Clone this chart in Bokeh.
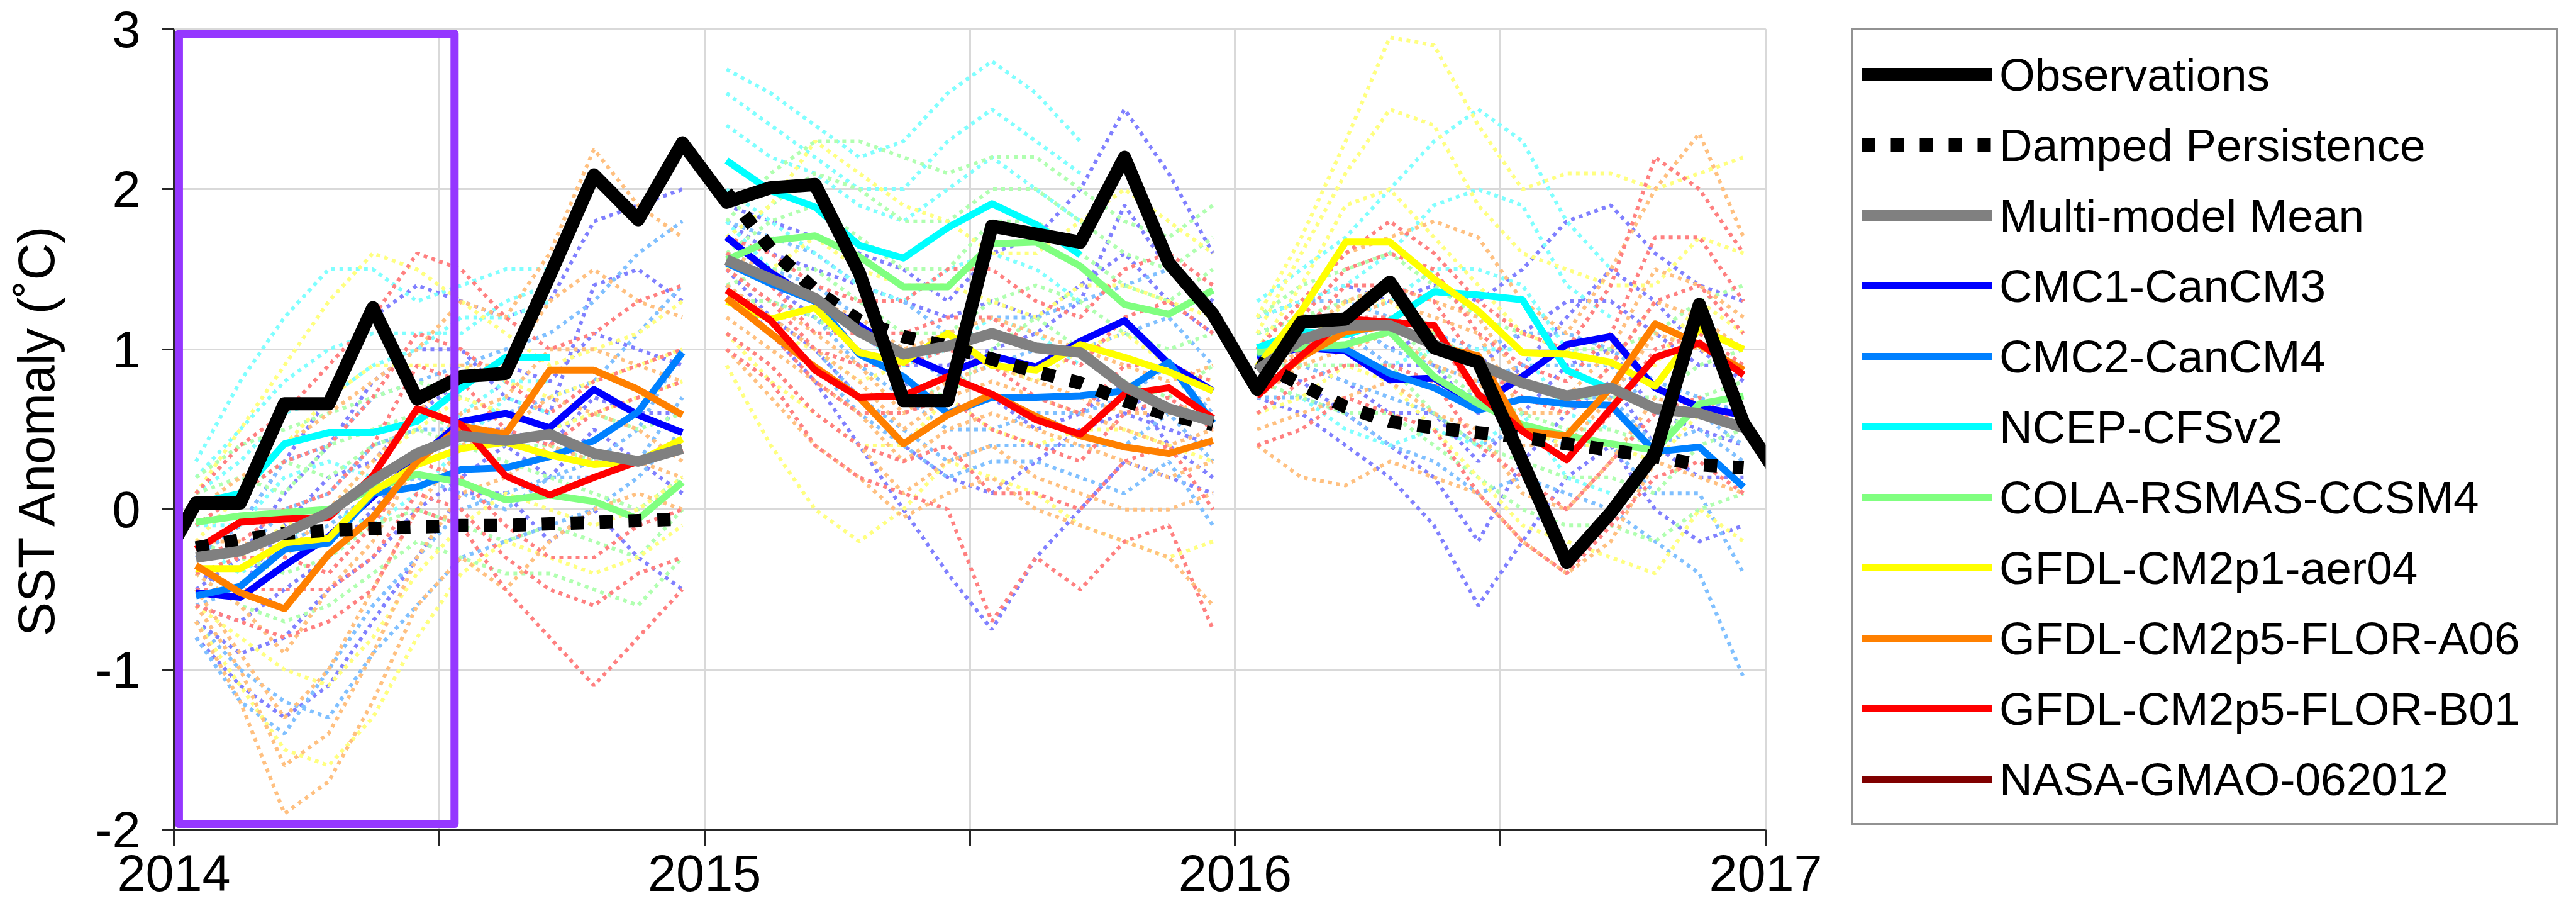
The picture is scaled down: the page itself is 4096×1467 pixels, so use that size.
import math
from bokeh.plotting import figure
from bokeh.models import Range1d, FixedTicker, Legend, LegendItem, BoxAnnotation
from bokeh.embed import file_html
from bokeh.resources import INLINE

# ---------------------------------------------------------------- data
FORECAST_YEARS = [2014, 2015, 2016]
X_TICKS = [2014, 2015, 2016, 2017]
X_MINOR_TICKS = [2014.5, 2015.5, 2016.5]
Y_TICKS = [-2, -1, 0, 1, 2, 3]
Y_TICK_LABELS = ["-2", "-1", "0", "1", "2", "3"]

OBS_FIRST_YEAR, OBS_FIRST_MONTH = 2013, 12
OBSERVATIONS = [-0.45,
    0.04, 0.04, 0.66, 0.66, 1.26, 0.69, 0.83, 0.85, 1.46, 2.09, 1.81, 2.29,
    1.92, 2.01, 2.03, 1.48, 0.68, 0.68, 1.77, 1.72, 1.67, 2.20, 1.54, 1.22,
    0.75, 1.17, 1.19, 1.42, 1.01, 0.92, 0.30, -0.33, -0.02, 0.35, 1.28, 0.54,
    0.12]

DAMPED = {
    2014: [-0.24, -0.19, -0.15, -0.13, -0.12, -0.11, -0.10, -0.10, -0.09, -0.08, -0.07, -0.06],
    2015: [1.98, 1.63, 1.37, 1.18, 1.08, 1.02, 0.94, 0.86, 0.79, 0.68, 0.59, 0.53],
    2016: [0.92, 0.78, 0.64, 0.55, 0.51, 0.48, 0.45, 0.41, 0.37, 0.33, 0.28, 0.26],
}

MULTI_MODEL_MEAN = {
    2014: [-0.30, -0.26, -0.15, -0.02, 0.18, 0.35, 0.46, 0.43, 0.47, 0.35, 0.30, 0.38],
    2015: [1.56, 1.44, 1.32, 1.11, 0.97, 1.02, 1.10, 1.01, 0.98, 0.77, 0.63, 0.55],
    2016: [0.87, 1.06, 1.15, 1.15, 1.03, 0.91, 0.79, 0.71, 0.76, 0.63, 0.60, 0.51],
}

CMC1_MEAN = {
    2014: [-0.52, -0.55, -0.35, -0.17, 0.08, 0.31, 0.55, 0.60, 0.51, 0.75, 0.59, 0.48],
    2015: [1.70, 1.48, 1.30, 1.15, 0.97, 0.85, 0.96, 0.89, 1.05, 1.18, 0.91, 0.74],
    2016: [0.95, 1.01, 0.99, 0.81, 0.82, 0.65, 0.83, 1.03, 1.08, 0.76, 0.64, 0.59],
}
CMC1_MEMBERS = {
    2014: [[-0.30, -0.10, 0.30, 0.70, 1.20, 1.40, 1.30, 1.20, 1.30, 1.80, 1.90, 2.00],
           [-0.70, -0.90, -0.80, -0.50, -0.30, 0.00, 0.20, 0.40, 0.20, 0.50, 0.30, 0.10],
           [-0.80, -1.10, -1.30, -1.10, -0.70, -0.30, 0.10, 0.10, -0.20, 0.00, -0.30, -0.50],
           [-0.40, -0.50, -0.10, 0.20, 0.30, 0.60, 0.80, 0.90, 0.80, 1.10, 1.00, 0.90],
           [-0.50, -0.30, 0.10, 0.40, 0.80, 1.00, 1.00, 0.70, 0.60, 1.40, 1.50, 1.30],
           [-0.60, -0.70, -0.50, -0.30, 0.00, 0.30, 0.50, 0.50, 0.40, 0.70, 0.60, 0.60]],
    2015: [[1.90, 1.80, 1.70, 1.60, 1.50, 1.30, 1.60, 1.70, 2.00, 2.50, 2.10, 1.60],
           [1.40, 1.10, 0.80, 0.40, 0.00, -0.40, -0.75, -0.30, 0.00, 0.30, 0.20, 0.10],
           [1.60, 1.40, 1.20, 1.00, 0.80, 0.60, 0.70, 0.50, 0.60, 0.80, 0.40, 0.20],
           [1.80, 1.60, 1.50, 1.40, 1.30, 1.20, 1.30, 1.20, 1.40, 1.60, 1.30, 1.10],
           [1.70, 1.50, 1.30, 1.10, 0.90, 0.90, 1.00, 1.10, 1.30, 1.90, 1.50, 1.30],
           [1.50, 1.20, 1.00, 0.70, 0.40, 0.20, 0.10, 0.30, 0.50, 0.60, 0.50, 0.40]],
    2016: [[1.20, 1.30, 1.40, 1.30, 1.40, 1.30, 1.50, 1.80, 1.90, 1.60, 1.40, 1.30],
           [0.70, 0.60, 0.40, 0.20, -0.10, -0.60, -0.20, 0.20, 0.40, 0.00, -0.20, -0.10],
           [0.90, 0.90, 0.80, 0.60, 0.60, 0.30, 0.60, 0.90, 1.00, 0.60, 0.50, 0.40],
           [1.10, 1.20, 1.20, 1.00, 1.10, 0.90, 1.10, 1.30, 1.30, 1.10, 0.90, 0.90],
           [1.00, 1.10, 1.10, 0.90, 0.90, 0.60, 0.90, 1.20, 1.50, 1.30, 1.00, 0.80],
           [0.80, 0.80, 0.60, 0.40, 0.20, -0.20, 0.30, 0.60, 0.80, 0.40, 0.20, 0.20]],
}

CMC2_MEAN = {
    2014: [-0.54, -0.48, -0.25, -0.21, 0.10, 0.14, 0.25, 0.26, 0.33, 0.43, 0.61, 0.98],
    2015: [1.54, 1.41, 1.30, 0.97, 0.83, 0.60, 0.70, 0.70, 0.71, 0.74, 0.92, 0.54],
    2016: [0.97, 1.02, 1.00, 0.85, 0.76, 0.62, 0.69, 0.66, 0.65, 0.36, 0.39, 0.14],
}
CMC2_MEMBERS = {
    2014: [[-0.30, -0.10, 0.30, 0.40, 0.70, 0.80, 0.90, 1.00, 1.10, 1.30, 1.60, 1.80],
           [-0.70, -1.00, -1.20, -1.30, -0.90, -0.60, -0.30, -0.20, -0.10, 0.00, 0.20, 0.50],
           [-0.60, -0.50, -0.20, -0.10, 0.10, 0.20, 0.10, 0.00, 0.20, 0.30, 0.50, 1.00],
           [-0.40, -0.30, 0.00, 0.10, 0.40, 0.50, 0.50, 0.60, 0.70, 0.80, 1.10, 1.40],
           [-0.80, -1.20, -1.40, -1.00, -0.60, -0.30, 0.00, 0.10, 0.20, 0.20, 0.30, 0.70]],
    2015: [[1.80, 1.70, 1.60, 1.40, 1.30, 1.10, 1.20, 1.20, 1.30, 1.40, 1.50, 1.20],
           [1.30, 1.10, 0.90, 0.60, 0.40, 0.20, 0.30, 0.30, 0.20, 0.10, 0.30, -0.10],
           [1.50, 1.30, 1.20, 0.90, 0.70, 0.50, 0.50, 0.60, 0.60, 0.70, 0.90, 0.60],
           [1.60, 1.50, 1.40, 1.20, 1.00, 0.80, 0.90, 1.00, 1.00, 1.10, 1.20, 0.90],
           [1.40, 1.20, 1.00, 0.70, 0.50, 0.30, 0.40, 0.40, 0.40, 0.40, 0.60, 0.30]],
    2016: [[1.20, 1.30, 1.30, 1.20, 1.10, 1.00, 1.10, 1.10, 1.00, 0.80, 0.70, 0.60],
           [0.70, 0.70, 0.60, 0.40, 0.30, 0.10, 0.20, 0.10, 0.00, -0.20, -0.40, -1.05],
           [1.00, 1.10, 1.10, 0.90, 0.80, 0.70, 0.80, 0.70, 0.70, 0.40, 0.50, 0.30],
           [1.10, 1.20, 1.20, 1.00, 0.90, 0.80, 0.90, 0.90, 0.90, 0.60, 0.60, 0.40],
           [0.90, 0.90, 0.80, 0.70, 0.60, 0.40, 0.50, 0.40, 0.40, 0.10, 0.10, -0.40]],
}

CFSV2_MEAN = {
    2014: [0.04, 0.10, 0.41, 0.48, 0.48, 0.55, 0.76, 0.95, 0.95],
    2015: [2.18, 1.99, 1.89, 1.65, 1.57, 1.76, 1.91, 1.78, 1.59],
    2016: [1.01, 1.11, 1.09, 1.18, 1.36, 1.34, 1.31, 0.87, 0.75],
}
CFSV2_MEMBERS = {
    2014: [[0.30, 0.80, 1.20, 1.50, 1.50, 1.30, 1.40, 1.50, 1.50],
           [-0.20, -0.40, -0.20, 0.00, -0.10, 0.10, 0.40, 0.70, 0.60],
           [0.10, 0.30, 0.60, 0.70, 0.90, 1.00, 1.20, 1.20, 1.30],
           [0.20, 0.50, 0.80, 1.00, 1.10, 1.10, 1.10, 1.30, 1.40],
           [-0.10, -0.10, 0.20, 0.30, 0.20, 0.30, 0.60, 0.80, 0.80]],
    2015: [[2.75, 2.60, 2.40, 2.20, 2.30, 2.60, 2.80, 2.60, 2.30],
           [1.80, 1.50, 1.30, 1.10, 0.90, 1.00, 1.20, 1.10, 0.90],
           [2.40, 2.20, 2.10, 1.90, 1.80, 2.00, 2.20, 2.00, 1.80],
           [2.60, 2.40, 2.20, 2.00, 2.00, 2.30, 2.50, 2.30, 2.10],
           [2.00, 1.80, 1.60, 1.40, 1.30, 1.50, 1.60, 1.50, 1.30]],
    2016: [[1.30, 1.50, 1.70, 2.00, 2.30, 2.50, 2.30, 1.80, 1.50],
           [0.80, 0.70, 0.50, 0.40, 0.50, 0.40, 0.60, 0.20, 0.10],
           [1.10, 1.20, 1.20, 1.30, 1.50, 1.50, 1.40, 1.00, 0.90],
           [1.20, 1.30, 1.40, 1.60, 1.90, 2.00, 1.90, 1.40, 1.20],
           [0.90, 0.90, 0.90, 0.90, 1.00, 1.00, 1.00, 0.60, 0.50]],
}

CCSM4_MEAN = {
    2014: [-0.08, -0.04, -0.02, 0.00, 0.13, 0.22, 0.17, 0.06, 0.09, 0.05, -0.06, 0.17],
    2015: [1.56, 1.68, 1.71, 1.58, 1.39, 1.39, 1.66, 1.67, 1.52, 1.28, 1.22, 1.37],
    2016: [0.98, 1.01, 1.03, 1.11, 0.83, 0.66, 0.53, 0.46, 0.41, 0.37, 0.66, 0.71],
}
CCSM4_MEMBERS = {
    2014: [[0.20, 0.40, 0.50, 0.60, 0.70, 0.80, 0.70, 0.60, 0.50, 0.60, 0.50, 0.60],
           [-0.40, -0.60, -0.70, -0.60, -0.40, -0.20, -0.30, -0.40, -0.40, -0.50, -0.60, -0.30],
           [0.00, 0.10, 0.30, 0.20, 0.40, 0.50, 0.40, 0.30, 0.20, 0.10, 0.00, 0.20],
           [0.10, 0.20, 0.10, 0.40, 0.50, 0.60, 0.50, 0.40, 0.40, 0.30, 0.30, 0.40],
           [-0.20, -0.30, -0.40, -0.30, -0.10, 0.00, -0.10, -0.20, -0.10, -0.20, -0.30, 0.00]],
    2015: [[1.80, 2.10, 2.30, 2.30, 2.20, 2.10, 2.20, 2.20, 2.00, 1.80, 1.70, 1.90],
           [1.30, 1.30, 1.20, 1.00, 0.80, 0.70, 1.00, 1.20, 1.00, 0.80, 0.70, 0.90],
           [1.60, 1.80, 1.90, 1.70, 1.50, 1.50, 1.80, 1.80, 1.60, 1.40, 1.30, 1.50],
           [1.70, 1.90, 2.10, 2.00, 1.80, 1.80, 2.00, 2.00, 1.80, 1.60, 1.50, 1.70],
           [1.40, 1.50, 1.50, 1.30, 1.10, 1.10, 1.30, 1.40, 1.30, 1.10, 1.00, 1.10]],
    2016: [[1.20, 1.40, 1.50, 1.60, 1.40, 1.20, 1.10, 1.00, 1.00, 1.10, 1.30, 1.40],
           [0.80, 0.70, 0.60, 0.60, 0.40, 0.20, 0.00, -0.10, -0.10, -0.20, 0.00, 0.10],
           [1.00, 1.10, 1.10, 1.20, 0.90, 0.70, 0.60, 0.50, 0.50, 0.40, 0.70, 0.80],
           [1.10, 1.20, 1.30, 1.40, 1.10, 0.90, 0.80, 0.70, 0.70, 0.70, 0.90, 1.00],
           [0.90, 0.90, 0.90, 0.90, 0.60, 0.40, 0.30, 0.20, 0.20, 0.10, 0.40, 0.50]],
}

AER04_MEAN = {
    2014: [-0.37, -0.37, -0.21, -0.18, 0.11, 0.28, 0.38, 0.42, 0.34, 0.28, 0.30, 0.44],
    2015: [1.30, 1.19, 1.26, 0.98, 0.92, 1.10, 0.90, 0.87, 1.03, 0.95, 0.86, 0.74],
    2016: [0.89, 1.24, 1.67, 1.67, 1.44, 1.24, 0.98, 0.97, 0.92, 0.77, 1.13, 1.00],
}
AER04_MEMBERS = {
    2014: [[0.10, 0.50, 0.90, 1.30, 1.60, 1.50, 1.30, 1.10, 0.90, 1.00, 1.10, 1.30],
           [-0.70, -1.10, -1.50, -1.60, -1.30, -0.80, -0.40, -0.20, -0.30, -0.40, -0.30, -0.10],
           [-0.40, -0.30, -0.10, 0.00, 0.30, 0.50, 0.70, 0.60, 0.50, 0.60, 0.70, 0.80],
           [-0.20, 0.10, 0.40, 0.70, 0.90, 0.90, 0.90, 0.80, 0.70, 0.80, 0.90, 1.00],
           [-0.60, -0.80, -1.00, -1.10, -0.80, -0.40, -0.10, 0.10, 0.00, -0.10, 0.00, 0.20]],
    2015: [[1.70, 1.90, 2.30, 2.10, 1.90, 1.80, 1.60, 1.60, 1.80, 2.00, 1.80, 1.60],
           [0.90, 0.40, 0.00, -0.20, 0.00, 0.30, 0.20, 0.10, -0.10, -0.20, -0.30, -0.20],
           [1.30, 1.10, 1.00, 0.80, 0.90, 1.10, 0.90, 0.80, 1.00, 1.10, 0.90, 0.80],
           [1.50, 1.50, 1.70, 1.50, 1.40, 1.40, 1.30, 1.20, 1.40, 1.40, 1.30, 1.20],
           [1.10, 0.80, 0.60, 0.40, 0.40, 0.70, 0.50, 0.40, 0.50, 0.50, 0.40, 0.30]],
    2016: [[1.20, 1.70, 2.30, 2.95, 2.90, 2.40, 2.00, 2.10, 2.10, 2.00, 2.10, 2.20],
           [0.60, 0.70, 0.90, 0.80, 0.50, 0.20, -0.10, -0.20, -0.30, -0.40, 0.00, -0.20],
           [1.00, 1.40, 1.90, 2.00, 1.70, 1.40, 1.10, 1.00, 0.90, 0.90, 1.30, 1.10],
           [1.10, 1.60, 2.10, 2.50, 2.40, 1.90, 1.60, 1.50, 1.40, 1.40, 1.70, 1.60],
           [0.80, 1.00, 1.30, 1.30, 1.10, 0.90, 0.50, 0.40, 0.40, 0.30, 0.60, 0.50]],
}

FLORA_MEAN = {
    2014: [-0.35, -0.52, -0.62, -0.28, -0.05, 0.30, 0.52, 0.47, 0.87, 0.87, 0.75, 0.59],
    2015: [1.32, 1.10, 0.89, 0.70, 0.41, 0.59, 0.72, 0.58, 0.46, 0.39, 0.35, 0.43],
    2016: [0.72, 0.95, 1.11, 1.15, 1.02, 0.96, 0.49, 0.46, 0.76, 1.16, 1.03, 0.87],
}
FLORA_MEMBERS = {
    2014: [[-0.70, -1.20, -1.90, -1.70, -1.20, -0.60, -0.30, -0.50, -0.20, 0.00, 0.10, 0.00],
           [0.00, 0.20, 0.40, 0.60, 0.80, 1.00, 1.30, 1.20, 1.60, 2.25, 1.90, 1.70],
           [-0.40, -0.60, -0.90, -0.50, -0.20, 0.30, 0.60, 0.70, 1.00, 1.00, 0.90, 0.80],
           [-0.50, -0.90, -1.30, -1.00, -0.50, 0.00, 0.40, 0.50, 0.70, 0.60, 0.50, 0.30],
           [-0.20, -0.20, -0.30, 0.00, 0.30, 0.60, 0.90, 0.90, 1.30, 1.50, 1.30, 1.20],
           [-0.60, -1.00, -1.60, -1.40, -0.90, -0.30, 0.10, 0.20, 0.40, 0.30, 0.30, 0.20]],
    2015: [[1.60, 1.50, 1.30, 1.20, 1.00, 1.10, 1.20, 1.10, 1.00, 0.90, 0.80, 0.90],
           [1.00, 0.70, 0.40, 0.20, -0.05, 0.10, 0.20, 0.00, -0.10, -0.20, -0.30, -0.60],
           [1.20, 1.00, 0.80, 0.60, 0.30, 0.50, 0.60, 0.50, 0.40, 0.30, 0.20, 0.30],
           [1.50, 1.30, 1.10, 0.90, 0.60, 0.80, 0.90, 0.80, 0.70, 0.60, 0.60, 0.70],
           [1.40, 1.20, 1.00, 0.80, 0.50, 0.70, 0.80, 0.70, 0.60, 0.50, 0.40, 0.50],
           [1.10, 0.90, 0.60, 0.40, 0.10, 0.30, 0.40, 0.20, 0.10, 0.00, 0.00, 0.10]],
    2016: [[1.00, 1.30, 1.60, 1.70, 1.80, 1.70, 1.30, 1.10, 1.50, 2.00, 2.35, 1.70],
           [0.40, 0.20, 0.15, 0.30, 0.20, 0.10, -0.20, -0.40, -0.20, 0.30, 0.20, 0.10],
           [0.70, 0.90, 1.00, 1.10, 0.90, 0.80, 0.40, 0.40, 0.70, 1.10, 1.00, 0.90],
           [0.90, 1.10, 1.30, 1.40, 1.30, 1.20, 0.80, 0.70, 1.00, 1.50, 1.40, 1.20],
           [0.80, 1.00, 1.20, 1.30, 1.20, 1.10, 0.60, 0.60, 0.90, 1.30, 1.20, 1.00],
           [0.50, 0.60, 0.70, 0.80, 0.60, 0.50, 0.10, 0.00, 0.30, 0.70, 0.60, 0.50]],
}

FLORB_MEAN = {
    2014: [-0.25, -0.08, -0.06, -0.05, 0.21, 0.63, 0.53, 0.21, 0.09, 0.20, 0.30, 0.38],
    2015: [1.37, 1.18, 0.87, 0.70, 0.71, 0.83, 0.72, 0.56, 0.47, 0.72, 0.76, 0.57],
    2016: [0.71, 0.96, 1.19, 1.17, 1.15, 0.72, 0.49, 0.31, 0.63, 0.95, 1.04, 0.84],
}
FLORB_MEMBERS = {
    2014: [[0.10, 0.40, 0.60, 0.90, 1.20, 1.60, 1.50, 1.20, 1.00, 1.10, 1.30, 1.40],
           [-0.60, -0.70, -0.80, -0.70, -0.50, 0.00, -0.10, -0.50, -0.80, -1.10, -0.80, -0.50],
           [-0.30, -0.20, 0.00, 0.10, 0.40, 0.90, 0.80, 0.50, 0.40, 0.60, 0.70, 0.80],
           [-0.40, -0.30, -0.30, -0.40, -0.10, 0.30, 0.20, -0.10, -0.30, -0.30, -0.10, 0.00],
           [-0.10, 0.10, 0.30, 0.40, 0.70, 1.10, 1.00, 0.80, 0.60, 0.80, 0.90, 1.00],
           [-0.50, -0.50, -0.50, -0.50, -0.30, 0.10, 0.00, -0.30, -0.50, -0.60, -0.40, -0.30]],
    2015: [[1.70, 1.60, 1.40, 1.30, 1.30, 1.50, 1.50, 1.30, 1.20, 1.50, 1.60, 1.40],
           [1.00, 0.80, 0.40, 0.20, 0.10, 0.00, -0.70, -0.30, -0.50, -0.20, -0.10, -0.75],
           [1.30, 1.10, 0.80, 0.60, 0.60, 0.70, 0.50, 0.40, 0.30, 0.60, 0.70, 0.50],
           [1.50, 1.30, 1.00, 0.90, 0.90, 1.00, 0.90, 0.70, 0.60, 0.90, 0.90, 0.80],
           [1.60, 1.40, 1.10, 1.10, 1.10, 1.20, 1.20, 1.00, 0.90, 1.20, 1.30, 1.10],
           [1.10, 0.90, 0.60, 0.40, 0.30, 0.40, 0.10, 0.10, 0.00, 0.30, 0.40, 0.00]],
    2016: [[1.00, 1.30, 1.60, 1.80, 1.60, 1.30, 1.10, 1.00, 1.40, 2.20, 2.00, 1.60],
           [0.40, 0.50, 0.70, 0.60, 0.50, 0.10, -0.20, -0.40, -0.10, 0.20, 0.30, 0.10],
           [0.70, 1.00, 1.20, 1.20, 1.10, 0.70, 0.50, 0.30, 0.60, 1.00, 1.10, 0.90],
           [0.80, 1.10, 1.40, 1.40, 1.30, 0.90, 0.70, 0.60, 0.90, 1.30, 1.40, 1.10],
           [0.90, 1.20, 1.50, 1.60, 1.50, 1.10, 0.90, 0.80, 1.10, 1.70, 1.70, 1.30],
           [0.60, 0.80, 0.90, 0.90, 0.80, 0.40, 0.20, 0.00, 0.30, 0.60, 0.70, 0.50]],
}

# NASA-GMAO-062012 appears in the legend only (no forecasts drawn)
NASA_MEAN = {}
NASA_MEMBERS = {}

MODEL_NAMES = ["CMC1-CanCM3", "CMC2-CanCM4", "NCEP-CFSv2", "COLA-RSMAS-CCSM4",
               "GFDL-CM2p1-aer04", "GFDL-CM2p5-FLOR-A06", "GFDL-CM2p5-FLOR-B01",
               "NASA-GMAO-062012"]
MODEL_COLORS = ["#0000FF", "#0080FF", "#00FFFF", "#80FF80",
                "#FFFF00", "#FF8000", "#FF0000", "#800000"]
MEMBER_COLORS = ["#8080FF", "#80C0FF", "#80FFFF", "#B0FFB0",
                 "#FFFF80", "#FFC080", "#FF8080", "#C08080"]
MODEL_MEANS = [CMC1_MEAN, CMC2_MEAN, CFSV2_MEAN, CCSM4_MEAN, AER04_MEAN,
               FLORA_MEAN, FLORB_MEAN, NASA_MEAN]
MODEL_MEMBERS = [CMC1_MEMBERS, CMC2_MEMBERS, CFSV2_MEMBERS, CCSM4_MEMBERS,
                 AER04_MEMBERS, FLORA_MEMBERS, FLORB_MEMBERS, NASA_MEMBERS]

# Highlight box around the first months of the 2014 forecasts
HIGHLIGHT_LEFT, HIGHLIGHT_RIGHT = 2014.0094, 2014.529
HIGHLIGHT_BOTTOM, HIGHLIGHT_TOP = -1.965, 2.972

# ---------------------------------------------------------------- helpers
def month_x(year, month):
    return year + (month - 0.5) / 12.0


def year_xs(year, n):
    return [month_x(year, m) for m in range(1, n + 1)]


def joined(series):
    xs, ys = [], []
    for yr in FORECAST_YEARS:
        if yr not in series:
            continue
        vals = series[yr]
        if xs:
            xs.append(math.nan)
            ys.append(math.nan)
        xs += year_xs(yr, len(vals))
        ys += vals
    if not xs:                      # legend-only series
        xs, ys = [math.nan], [math.nan]
    return xs, ys


FONT = "Liberation Sans"
AXIS_COLOR = "#262626"
GRID_COLOR = "#D9D9D9"

p = figure(
    x_range=Range1d(2014, 2017), y_range=Range1d(-2, 3),
    frame_width=2531, frame_height=1272,
    min_border_left=276, min_border_right=1263,
    min_border_top=46, min_border_bottom=131,
    output_backend="svg", toolbar_location=None,
    background_fill_color="white", border_fill_color="white",
    outline_line_color=GRID_COLOR, outline_line_width=3,
)

# axes
p.xaxis.ticker = FixedTicker(ticks=X_TICKS, minor_ticks=X_MINOR_TICKS)
p.yaxis.ticker = FixedTicker(ticks=Y_TICKS)
p.yaxis.major_label_overrides = {t: s for t, s in zip(Y_TICKS, Y_TICK_LABELS)}
for ax in (p.xaxis, p.yaxis):
    ax.axis_line_color = AXIS_COLOR
    ax.axis_line_width = 3
    ax.major_tick_line_color = AXIS_COLOR
    ax.major_tick_line_width = 3
    ax.major_tick_in = 0
    ax.major_label_text_font = FONT
    ax.major_label_text_font_size = "81px"
    ax.major_label_text_color = "black"
p.xaxis.major_tick_out = 26
p.xaxis.minor_tick_out = 26
p.xaxis.minor_tick_in = 0
p.xaxis.minor_tick_line_color = AXIS_COLOR
p.xaxis.minor_tick_line_width = 3
p.xaxis.major_label_standoff = 14
p.yaxis.major_tick_out = 19
p.yaxis.minor_tick_line_color = None
p.yaxis.major_label_standoff = 34
p.yaxis.axis_label = "SST Anomaly (\u02daC)"
p.yaxis.axis_label_text_font = FONT
p.yaxis.axis_label_text_font_size = "81px"
p.yaxis.axis_label_text_font_style = "normal"
p.yaxis.axis_label_text_color = "black"
p.yaxis.axis_label_standoff = 45

p.xgrid.grid_line_color = GRID_COLOR
p.xgrid.grid_line_width = 3
p.xgrid.minor_grid_line_color = GRID_COLOR
p.xgrid.minor_grid_line_width = 3
p.ygrid.grid_line_color = GRID_COLOR
p.ygrid.grid_line_width = 3

# ensemble members (pale dotted)
for members, pale in zip(MODEL_MEMBERS, MEMBER_COLORS):
    xs_list, ys_list = [], []
    for yr in FORECAST_YEARS:
        for mem in members.get(yr, []):
            xs_list.append(year_xs(yr, len(mem)))
            ys_list.append(mem)
    if xs_list:
        p.multi_line(xs_list, ys_list, line_color=pale, line_width=6,
                     line_dash="6 7", line_cap="butt")

# model means
model_renderers = []
for name, color, means in zip(MODEL_NAMES, MODEL_COLORS, MODEL_MEANS):
    xs, ys = joined(means)
    r = p.line(xs, ys, line_color=color, line_width=11, line_join="round")
    model_renderers.append(r)

# damped persistence
dx, dy = joined(DAMPED)
damped_r = p.line(dx, dy, line_color="black", line_width=21,
                  line_dash="21 25", line_cap="butt")

# multi-model mean
mx, my = joined(MULTI_MODEL_MEAN)
mean_r = p.line(mx, my, line_color="#808080", line_width=17, line_join="round")

# observations
obs_x = []
for k in range(len(OBSERVATIONS)):
    idx = OBS_FIRST_MONTH - 1 + k
    obs_x.append(month_x(OBS_FIRST_YEAR + idx // 12, idx % 12 + 1))
obs_r = p.line(obs_x, OBSERVATIONS, line_color="black", line_width=21,
               line_join="round")

# highlight box
box = BoxAnnotation(left=HIGHLIGHT_LEFT, right=HIGHLIGHT_RIGHT,
                    bottom=HIGHLIGHT_BOTTOM, top=HIGHLIGHT_TOP,
                    fill_alpha=0, line_color="#9537FF", line_alpha=1.0,
                    line_width=13, line_join="round")
p.add_layout(box)

# legend
items = [LegendItem(label="Observations", renderers=[obs_r]),
         LegendItem(label="Damped Persistence", renderers=[damped_r]),
         LegendItem(label="Multi-model Mean", renderers=[mean_r])]
for name, r in zip(MODEL_NAMES, model_renderers):
    items.append(LegendItem(label=name, renderers=[r]))

legend = Legend(
    items=items, location=(136, 7), orientation="vertical",
    label_text_font=FONT, label_text_font_size="73px", label_text_color="black",
    label_height=112, glyph_height=112, glyph_width=208, label_width=871,
    label_standoff=11, spacing=0, padding=14, margin=0,
    border_line_color=AXIS_COLOR, border_line_width=3,
    background_fill_color="white", background_fill_alpha=1.0,
)
p.add_layout(legend, "right")

open("out.html", "w").write(file_html(p, INLINE))
